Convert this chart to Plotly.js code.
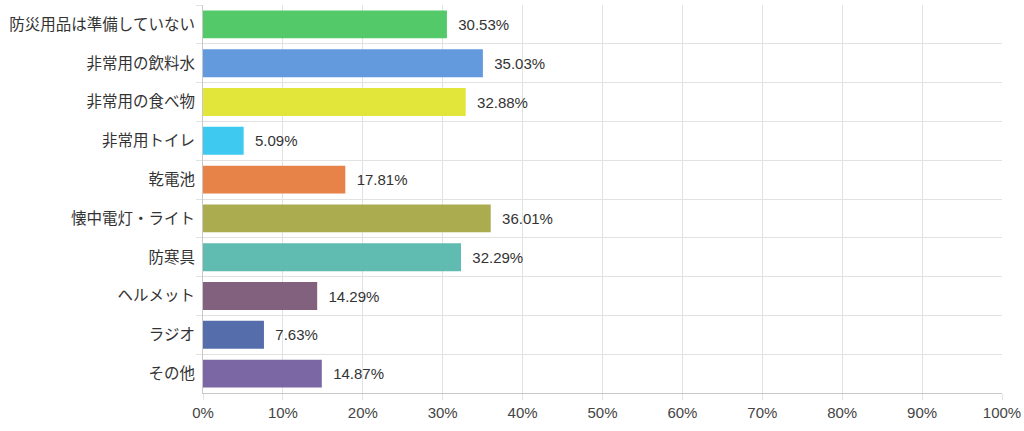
<!DOCTYPE html>
<html>
<head>
<meta charset="utf-8">
<script src="https://cdn.plot.ly/plotly-3.0.1.min.js"></script>
<style>
  html, body { margin: 0; padding: 0; background: #fff; }
  #chart { width: 1024px; height: 431px; }
</style>
</head>
<body>
<div id="chart"></div>
<script>
var items = ["防災用品は準備していない", "非常用の飲料水", "非常用の食べ物", "非常用トイレ", "乾電池",
             "懐中電灯・ライト", "防寒具", "ヘルメット", "ラジオ", "その他"];
var percents = [30.53, 35.03, 32.88, 5.09, 17.81, 36.01, 32.29, 14.29, 7.63, 14.87];
var barColors = ["#4dc765", "#5e96dc", "#e1e535", "#38c7f0", "#e67e42",
                 "#a8a84a", "#5bb9ae", "#7e5c7b", "#5069a8", "#7762a0"];
var tickVals = [0, 10, 20, 30, 40, 50, 60, 70, 80, 90, 100];
var tickText = tickVals.map(function (v) { return v + "%"; });

var font = '"Liberation Sans", Arial, "Noto Sans CJK JP", sans-serif';

var trace = {
  type: "bar",
  orientation: "h",
  x: percents,
  y: items,
  marker: { color: barColors, opacity: 0.97, line: { width: 0 } },
  texttemplate: "  %{x:.2f}%",
  textposition: "outside",
  cliponaxis: false,
  textfont: { size: 15, color: "#333", family: font },
  hoverinfo: "skip"
};

var layout = {
  width: 1024,
  height: 431,
  margin: { l: 203, r: 22, t: 5, b: 38 },
  paper_bgcolor: "#fff",
  plot_bgcolor: "#fff",
  showlegend: false,
  bargap: 0.28,
  font: { family: font, size: 15, color: "#333" },
  xaxis: {
    range: [0, 100],
    tickvals: tickVals,
    ticktext: tickText,
    showgrid: true,
    gridcolor: "#e2e2e2",
    zeroline: false,
    showline: true,
    linecolor: "#c8c8c8",
    ticks: "outside",
    ticklen: 6,
    tickcolor: "#e2e2e2",
    tickfont: { size: 15, color: "#444" },
    fixedrange: true
  },
  yaxis: {
    type: "category",
    autorange: "reversed",
    tickson: "boundaries",
    showgrid: true,
    gridcolor: "#e2e2e2",
    showline: true,
    linecolor: "#c8c8c8",
    ticks: "outside",
    ticklen: 6,
    tickcolor: "#e2e2e2",
    tickfont: { size: 15.5, color: "#333" },
    ticklabelstandoff: 4,
    fixedrange: true
  }
};

Plotly.newPlot("chart", [trace], layout, { displayModeBar: false, staticPlot: true });
</script>
</body>
</html>
